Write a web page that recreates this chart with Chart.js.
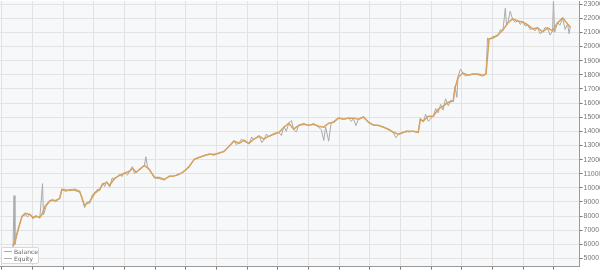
<!DOCTYPE html>
<html>
<head>
<meta charset="utf-8">
<script src="https://cdn.jsdelivr.net/npm/chart.js"></script>
<style>
  html, body { margin: 0; padding: 0; background: #fff; overflow: hidden; }
  #wrap { position: relative; width: 600px; height: 270px; overflow: hidden; }
  #equityChart { position: absolute; left: -8px; top: -4px; }
  #legend {
    position: absolute; left: 1px; top: 247px; width: 36px; height: 15px;
    background: #fff; border: 1px solid #d8d8d8; border-radius: 2px;
    font: 6px "DejaVu Sans", Arial, sans-serif; color: #666; line-height: 7px;
  }
  #legend div { position: relative; padding-left: 12px; white-space: nowrap; }
  #legend span { position: absolute; left: 2px; top: 3px; width: 8px; height: 1px; }
</style>
</head>
<body>
<div id="wrap">
  <canvas id="equityChart" width="612" height="284"></canvas>
  <div id="legend">
    <div><span style="background:#d6a25c"></span>Balance</div>
    <div><span style="background:#b0b0b0"></span>Equity</div>
  </div>
</div>

<script>
    // tick labels (mostly cut off at the bottom in the original)
    const xLabels = ['01.03', '08.03', '15.03', '22.03', '29.03', '05.04', '12.04', '19.04', '26.04', '03.05',
                     '10.05', '17.05', '24.05', '31.05', '07.06', '14.06', '21.06', '28.06', '05.07'];
    const yTicks = [5000, 6000, 7000, 8000, 9000, 10000, 11000, 12000, 13000, 14000,
                    15000, 16000, 17000, 18000, 19000, 20000, 21000, 22000, 23000];

    // balance line
    const balanceX = [0.37, 0.66, 0.76, 0.92, 1.02, 1.15, 1.24, 1.31, 1.41, 1.57, 1.76, 1.89, 1.96, 2.22, 2.38, 2.54,
        2.64, 2.70, 2.87, 3.03, 3.19, 3.29, 3.42, 3.52, 3.68, 3.84, 4.00, 4.17, 4.26, 4.39, 4.49, 4.65, 4.81, 4.98,
        5.14, 5.30, 5.46, 5.72, 5.89, 6.02, 6.11, 6.28, 6.44, 6.76, 6.93, 7.09, 7.25, 7.41, 7.57, 7.74, 7.90, 8.06,
        8.22, 8.39, 8.55, 8.71, 8.87, 9.04, 9.20, 9.36, 9.52, 9.69, 9.85, 10.01, 10.17, 10.33, 10.50, 10.66, 10.82,
        10.98, 11.15, 11.31, 11.47, 11.63, 11.80, 11.96, 12.12, 12.28, 12.45, 12.61, 12.77, 12.93, 13.09, 13.26,
        13.42, 13.58, 13.65, 13.74, 13.91, 14.07, 14.23, 14.39, 14.56, 14.72, 14.78, 14.88, 15.04, 15.21, 15.37,
        15.53, 15.69, 15.79, 15.89, 16.02, 16.18, 16.34, 16.50, 16.66, 16.83, 16.99, 17.15, 17.31, 17.47, 17.64,
        17.80, 17.96, 18.12, 18.29, 18.45, 18.54];
    const balanceY = [5850, 7980, 8190, 8120, 7910, 7980, 7910, 8120, 8690, 9110, 9110, 9250, 9890, 9820, 9890, 9750,
        9110, 8760, 9040, 9610, 9890, 10250, 10390, 10180, 10670, 10880, 11030, 11170, 11380, 11100, 11310, 11590, 11310, 10740,
        10740, 10600, 10810, 10880, 11100, 11310, 11520, 12020, 12160, 12370, 12370, 12440, 12590, 12940, 13300, 13150, 13370, 13150,
        13440, 13650, 13440, 13650, 13790, 13930, 14290, 14570, 14150, 14430, 14500, 14430, 14500, 14360, 14290, 14570, 14640,
        14930, 14860, 14930, 14930, 14860, 15000, 14640, 14430, 14430, 14290, 14150, 13930, 13790, 13930, 14000,
        14000, 13930, 14860, 14710, 15070, 15070, 15560, 15780, 16060, 16130, 17050, 17830, 18120, 17970, 18050,
        18050, 17970, 18050, 20530, 20600, 20810, 21170, 21660, 21950, 21800, 21730, 21520, 21240, 21310, 21030,
        21310, 21100, 21660, 22020, 21590, 21380];

    // equity line
    const equityX = [0.37, 0.40, 0.43, 0.55, 0.66, 0.76, 0.85, 0.92, 1.02, 1.10, 1.24, 1.33, 1.36, 1.45, 1.57, 1.66,
        1.76, 1.89, 1.96, 2.10, 2.22, 2.38, 2.54, 2.62, 2.70, 2.78, 2.87, 2.95, 3.03, 3.12, 3.19, 3.29, 3.36, 3.42,
        3.52, 3.60, 3.68, 3.84, 3.92, 4.00, 4.10, 4.17, 4.26, 4.33, 4.39, 4.49, 4.58, 4.65, 4.70, 4.75, 4.81, 4.90,
        4.98, 5.14, 5.30, 5.46, 5.60, 5.72, 5.89, 6.02, 6.11, 6.28, 6.44, 6.60, 6.76, 6.93, 7.09, 7.25, 7.41, 7.57,
        7.65, 7.74, 7.82, 7.90, 8.06, 8.15, 8.22, 8.39, 8.48, 8.55, 8.63, 8.71, 8.87, 9.04, 9.12, 9.20, 9.28, 9.36,
        9.45, 9.52, 9.60, 9.69, 9.85, 10.01, 10.17, 10.33, 10.42, 10.50, 10.56, 10.66, 10.74, 10.82, 10.98, 11.15,
        11.31, 11.40, 11.47, 11.55, 11.63, 11.80, 11.96, 12.12, 12.28, 12.45, 12.61, 12.77, 12.85, 12.93, 13.09,
        13.20, 13.26, 13.42, 13.58, 13.65, 13.74, 13.82, 13.91, 14.07, 14.15, 14.23, 14.31, 14.39, 14.47, 14.56,
        14.64, 14.72, 14.78, 14.84, 14.88, 14.96, 15.04, 15.12, 15.21, 15.37, 15.53, 15.69, 15.79, 15.84, 15.89,
        16.02, 16.18, 16.26, 16.34, 16.42, 16.46, 16.50, 16.58, 16.66, 16.75, 16.83, 16.91, 16.99, 17.07, 17.15,
        17.23, 17.31, 17.39, 17.47, 17.55, 17.64, 17.72, 17.80, 17.88, 17.96, 17.99, 18.03, 18.12, 18.20, 18.29,
        18.37, 18.45, 18.50, 18.54];
    const equityY = [5850, 9450, 6000, 7200, 7980, 8100, 7950, 8150, 7800, 8050, 7850, 10300, 8100, 8700, 9050, 9200,
        9000, 9300, 9850, 9750, 9900, 9800, 9700, 9300, 8600, 9000, 8900, 9500, 9650, 9900, 9800, 10350, 10100, 10450,
        10050, 10700, 10600, 10950, 10800, 11100, 10900, 11200, 11500, 11000, 11150, 11250, 11450, 11600, 12200, 11500, 11250, 11000,
        10700, 10650, 10550, 10850, 10800, 10950, 11050, 11350, 11450, 12050, 12150, 12300, 12400, 12300, 12500, 12550, 12900, 13350,
        13050, 13200, 13450, 13300, 13100, 13600, 13400, 13700, 13200, 13400, 13800, 13600, 13850, 13900, 13700, 14350, 14000, 14600,
        14750, 14100, 13950, 14450, 14550, 14400, 14550, 14300, 14100, 13350, 14300, 13300, 14600, 14700, 14950, 14850,
        14950, 14700, 14900, 14400, 14850, 15050, 14600, 14450, 14400, 14300, 14100, 13900, 13550, 13750, 13900,
        14050, 13950, 14000, 13900, 14900, 14650, 15200, 14700, 15100, 15600, 15300, 15900, 15500, 16300, 15800,
        16200, 16100, 17200, 16400, 17900, 18400, 18100, 17900, 18000, 18050, 18000, 17900, 18050, 20600, 20500,
        20700, 20750, 21200, 21100, 22700, 21500, 21650, 22500, 21900, 21700, 21850, 21550, 21750, 21450, 21500,
        21200, 21300, 21100, 21350, 20900, 21050, 21350, 21250, 20800, 21100, 23200, 21000, 21700, 21500, 22000,
        21200, 21600, 20900, 21400];

    const toPoints = (xs, ys) => xs.map((x, i) => ({ x: x, y: ys[i] }));

    // light plot background behind the grid
    const plotBg = {
        id: 'plotBg',
        beforeDraw(chart) {
            const a = chart.chartArea;
            const ctx = chart.ctx;
            ctx.save();
            ctx.fillStyle = '#f7f8fa';
            ctx.fillRect(a.left, a.top, a.right - a.left, a.bottom - a.top);
            ctx.restore();
        }
    };

    new Chart(document.getElementById('equityChart'), {
        type: 'line',
        data: {
            datasets: [{
                label: 'Balance',
                data: toPoints(balanceX, balanceY),
                borderColor: '#d6a25c',
                borderWidth: 1.5,
                pointRadius: 0,
                tension: 0,
                order: 1
            }, {
                label: 'Equity',
                data: toPoints(equityX, equityY),
                borderColor: '#aaaaaa',
                borderWidth: 1,
                pointRadius: 0,
                tension: 0,
                order: 2
            }]
        },
        options: {
            responsive: false,
            animation: false,
            layout: { padding: 0 },
            plugins: { legend: { display: false }, tooltip: { enabled: false } },
            scales: {
                x: {
                    type: 'linear',
                    min: -0.055,
                    max: 18.84,
                    afterBuildTicks: (s) => { s.ticks = xLabels.map((l, i) => ({ value: i })); },
                    ticks: { callback: (v) => xLabels[v], color: '#666', font: { size: 7 }, padding: 1, maxRotation: 0, autoSkip: false },
                    grid: { color: '#e3e3e3', tickLength: 3, tickColor: '#777' },
                    border: { color: '#999' }
                },
                y: {
                    position: 'right',
                    min: 4430,
                    max: 23200,
                    afterBuildTicks: (s) => { s.ticks = yTicks.map(v => ({ value: v })); },
                    ticks: { callback: (v) => String(v), color: '#777', font: { size: 7 }, padding: 1, autoSkip: false },
                    grid: { color: '#e3e3e3', tickLength: 3, tickColor: '#777' },
                    border: { color: '#999' }
                }
            }
        },
        plugins: [plotBg]
    });
</script>
</body>
</html>
